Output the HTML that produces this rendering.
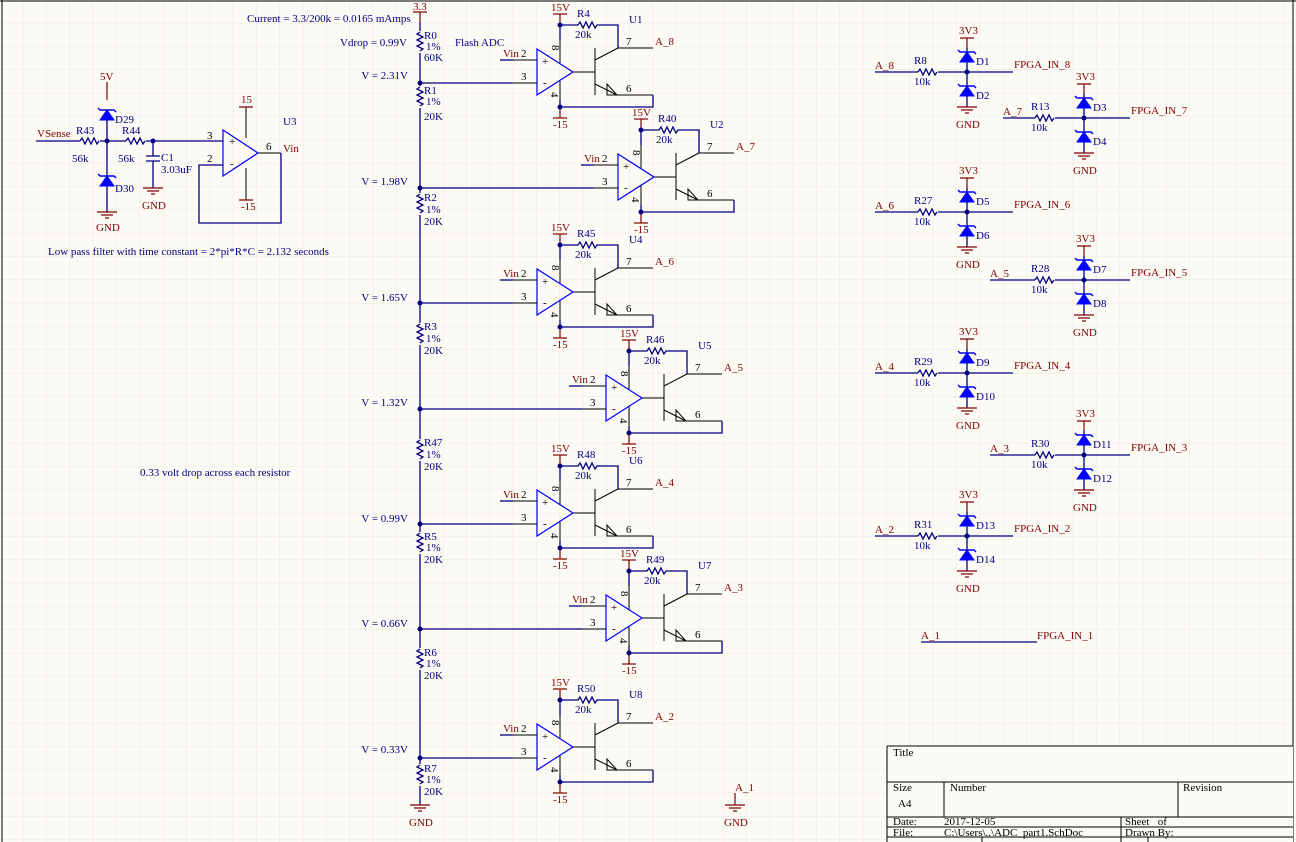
<!DOCTYPE html>
<html><head><meta charset="utf-8"><style>
html,body{margin:0;padding:0;background:#fcfaf4;}
svg{display:block;font-family:"Liberation Serif",serif;font-size:11px;}
.w{stroke:#000080;stroke-width:1.3;fill:none}
.k{stroke:#000;stroke-width:1;fill:none}
.r{stroke:#800000;stroke-width:1.2;fill:none}
.b{stroke:#0000ff;stroke-width:1.2;fill:none}
.tn{fill:#000080}
.tr{fill:#800000}
.tk{fill:#000}
.d{fill:#000080}
</style></head><body>
<svg width="1296" height="842" viewBox="0 0 1296 842" xmlns="http://www.w3.org/2000/svg">
<defs>
<pattern id="grid" width="23.333" height="23.333" patternUnits="userSpaceOnUse">
<path d="M23.333 0V23.333M0 23.333H23.333" stroke="#ebe8df" stroke-width="1" fill="none"/>
</pattern>
<g id="cmp">
 <polygon points="537,49 537,95 573,72" class="b"/>
 <line x1="500" y1="60" x2="513" y2="60" class="w"/>
 <line x1="513" y1="60" x2="537" y2="60" class="k"/>
 <line x1="513" y1="83" x2="537" y2="83" class="k"/>
 <line x1="560" y1="63" x2="560" y2="40" class="k"/>
 <line x1="560" y1="40" x2="560" y2="25" class="w"/>
 <line x1="560" y1="25" x2="560" y2="14" class="r"/>
 <line x1="553" y1="14" x2="567" y2="14" class="r"/>
 <circle cx="560" cy="25" r="2.5" class="d"/>
 <path d="M560 25H578l2-3 3 6 3-6 3 6 3-6 3 6 2-3H618V48" class="w"/>
 <line x1="618" y1="48" x2="653" y2="48" class="k"/>
 <line x1="573" y1="72" x2="595" y2="72" class="k"/>
 <line x1="595" y1="48" x2="595" y2="95" class="k"/>
 <line x1="595" y1="60" x2="618" y2="48" class="k"/>
 <line x1="595" y1="84" x2="617" y2="95" class="k"/>
 <polygon points="607,84 607,95 617,95" class="k"/>
 <line x1="617" y1="95" x2="653" y2="95" class="k"/>
 <path d="M653 95V107H560" class="w"/>
 <line x1="560" y1="81" x2="560" y2="100" class="k"/>
 <line x1="560" y1="100" x2="560" y2="107" class="w"/>
 <line x1="560" y1="107" x2="560" y2="118" class="r"/>
 <line x1="553" y1="118" x2="567" y2="118" class="r"/>
 <circle cx="560" cy="107" r="2.5" class="d"/>
</g>
<g id="rv"><path d="M0 0l-3 2 6 3-6 3 6 3-6 3 6 3-3 2" class="w"/></g>
<g id="rh"><path d="M0 0l2-3 3 6 3-6 3 6 3-6 3 6 2-3" class="w"/></g>
<g id="dio"><polygon points="-7,10 7,10 0,0" fill="#0000ff" stroke="#0000ff"/><path d="M-9 -2l2 2H7l2 2" stroke="#0000ff" stroke-width="1.5" fill="none"/></g>
<g id="gnd"><path d="M-10 0H10M-6 3H6M-2 6H2" class="r"/></g>
</defs>
<rect width="1296" height="842" fill="#fcfaf4"/>
<rect width="1296" height="842" fill="url(#grid)"/>
<path d="M2 0V842M0 1H1296M1293 0V842" stroke="#000" stroke-width="1" fill="none"/>

<!-- top texts -->
<text x="247" y="22" class="tn">Current = 3.3/200k = 0.0165 mAmps</text>
<text x="340" y="46" class="tn">Vdrop = 0.99V</text>
<text x="455" y="46" class="tn">Flash ADC</text>
<text x="413" y="10" class="tr">3.3</text>
<line x1="413" y1="12" x2="427" y2="12" class="r"/>
<line x1="420" y1="12" x2="420" y2="22" class="r"/>
<line x1="420" y1="22" x2="420" y2="805" class="w"/>
<use href="#gnd" x="420" y="805"/>
<text x="409" y="826" class="tr">GND</text>

<!-- divider resistors -->
<g>
<rect x="414" y="31" width="12" height="22" fill="#fcfaf4"/><use href="#rv" x="420" y="32"/>
<text x="424" y="39" class="tn">R0</text><text x="426" y="50" class="tn">1%</text><text x="424" y="61" class="tn">60K</text>
<rect x="414" y="86" width="12" height="22" fill="#fcfaf4"/><use href="#rv" x="420" y="87"/>
<text x="424" y="94" class="tn">R1</text><text x="426" y="105" class="tn">1%</text><text x="424" y="120" class="tn">20K</text>
<rect x="414" y="193" width="12" height="22" fill="#fcfaf4"/><use href="#rv" x="420" y="194"/>
<text x="424" y="201" class="tn">R2</text><text x="426" y="213" class="tn">1%</text><text x="424" y="225" class="tn">20K</text>
<rect x="414" y="323" width="12" height="22" fill="#fcfaf4"/><use href="#rv" x="420" y="324"/>
<text x="424" y="330" class="tn">R3</text><text x="426" y="342" class="tn">1%</text><text x="424" y="354" class="tn">20K</text>
<rect x="414" y="439" width="12" height="22" fill="#fcfaf4"/><use href="#rv" x="420" y="440"/>
<text x="424" y="446" class="tn">R47</text><text x="426" y="458" class="tn">1%</text><text x="424" y="470" class="tn">20K</text>
<rect x="414" y="532" width="12" height="22" fill="#fcfaf4"/><use href="#rv" x="420" y="533"/>
<text x="424" y="540" class="tn">R5</text><text x="426" y="551" class="tn">1%</text><text x="424" y="563" class="tn">20K</text>
<rect x="414" y="648" width="12" height="22" fill="#fcfaf4"/><use href="#rv" x="420" y="649"/>
<text x="424" y="656" class="tn">R6</text><text x="426" y="667" class="tn">1%</text><text x="424" y="679" class="tn">20K</text>
<rect x="414" y="764" width="12" height="22" fill="#fcfaf4"/><use href="#rv" x="420" y="765"/>
<text x="424" y="772" class="tn">R7</text><text x="426" y="783" class="tn">1%</text><text x="424" y="795" class="tn">20K</text>
</g>

<!-- taps -->
<g text-anchor="end" class="tn">
<text x="408" y="79" class="tn">V = 2.31V</text>
<text x="408" y="185" class="tn">V = 1.98V</text>
<text x="408" y="301" class="tn">V = 1.65V</text>
<text x="408" y="406" class="tn">V = 1.32V</text>
<text x="408" y="522" class="tn">V = 0.99V</text>
<text x="408" y="627" class="tn">V = 0.66V</text>
<text x="408" y="753" class="tn">V = 0.33V</text>
</g>
<path d="M420 83H513M420 188H594M420 303H513M420 409H582M420 524H513M420 629H582M420 758H513" class="w"/>
<g class="d"><circle cx="420" cy="83" r="2.5"/><circle cx="420" cy="188" r="2.5"/><circle cx="420" cy="303" r="2.5"/><circle cx="420" cy="409" r="2.5"/><circle cx="420" cy="524" r="2.5"/><circle cx="420" cy="629" r="2.5"/><circle cx="420" cy="758" r="2.5"/></g>

<!-- comparator units -->
<g transform="translate(0,0)"><use href="#cmp"/>
<text x="551" y="11" class="tr">15V</text><text x="553" y="128" class="tr">-15</text><text x="503" y="57" class="tr">Vin</text>
<text x="521" y="57" class="tk">2</text><text x="521" y="80" class="tk">3</text><text x="626" y="45" class="tk">7</text><text x="626" y="92" class="tk">6</text>
<text x="542" y="65" class="tk">+</text><text x="543" y="86" class="tk">-</text><text x="551" y="50" class="tk" transform="rotate(90 554 48)">8</text><text x="551" y="98" class="tk" transform="rotate(90 554 95)">4</text>
<text x="577" y="17" class="tn">R4</text><text x="575" y="38" class="tn">20k</text><text x="629" y="23" class="tn">U1</text><text x="655" y="45" class="tr">A_8</text></g>

<g transform="translate(81,105)"><use href="#cmp"/>
<text x="551" y="11" class="tr">15V</text><text x="553" y="128" class="tr">-15</text><text x="503" y="57" class="tr">Vin</text>
<text x="521" y="57" class="tk">2</text><text x="521" y="80" class="tk">3</text><text x="626" y="45" class="tk">7</text><text x="626" y="92" class="tk">6</text>
<text x="542" y="65" class="tk">+</text><text x="543" y="86" class="tk">-</text><text x="551" y="50" class="tk" transform="rotate(90 554 48)">8</text><text x="551" y="98" class="tk" transform="rotate(90 554 95)">4</text>
<text x="577" y="17" class="tn">R40</text><text x="575" y="38" class="tn">20k</text><text x="629" y="23" class="tn">U2</text><text x="655" y="45" class="tr">A_7</text></g>

<g transform="translate(0,220)"><use href="#cmp"/>
<text x="551" y="11" class="tr">15V</text><text x="553" y="128" class="tr">-15</text><text x="503" y="57" class="tr">Vin</text>
<text x="521" y="57" class="tk">2</text><text x="521" y="80" class="tk">3</text><text x="626" y="45" class="tk">7</text><text x="626" y="92" class="tk">6</text>
<text x="542" y="65" class="tk">+</text><text x="543" y="86" class="tk">-</text><text x="551" y="50" class="tk" transform="rotate(90 554 48)">8</text><text x="551" y="98" class="tk" transform="rotate(90 554 95)">4</text>
<text x="577" y="17" class="tn">R45</text><text x="575" y="38" class="tn">20k</text><text x="629" y="23" class="tn">U4</text><text x="655" y="45" class="tr">A_6</text></g>

<g transform="translate(69,326)"><use href="#cmp"/>
<text x="551" y="11" class="tr">15V</text><text x="553" y="128" class="tr">-15</text><text x="503" y="57" class="tr">Vin</text>
<text x="521" y="57" class="tk">2</text><text x="521" y="80" class="tk">3</text><text x="626" y="45" class="tk">7</text><text x="626" y="92" class="tk">6</text>
<text x="542" y="65" class="tk">+</text><text x="543" y="86" class="tk">-</text><text x="551" y="50" class="tk" transform="rotate(90 554 48)">8</text><text x="551" y="98" class="tk" transform="rotate(90 554 95)">4</text>
<text x="577" y="17" class="tn">R46</text><text x="575" y="38" class="tn">20k</text><text x="629" y="23" class="tn">U5</text><text x="655" y="45" class="tr">A_5</text></g>

<g transform="translate(0,441)"><use href="#cmp"/>
<text x="551" y="11" class="tr">15V</text><text x="553" y="128" class="tr">-15</text><text x="503" y="57" class="tr">Vin</text>
<text x="521" y="57" class="tk">2</text><text x="521" y="80" class="tk">3</text><text x="626" y="45" class="tk">7</text><text x="626" y="92" class="tk">6</text>
<text x="542" y="65" class="tk">+</text><text x="543" y="86" class="tk">-</text><text x="551" y="50" class="tk" transform="rotate(90 554 48)">8</text><text x="551" y="98" class="tk" transform="rotate(90 554 95)">4</text>
<text x="577" y="17" class="tn">R48</text><text x="575" y="38" class="tn">20k</text><text x="629" y="23" class="tn">U6</text><text x="655" y="45" class="tr">A_4</text></g>

<g transform="translate(69,546)"><use href="#cmp"/>
<text x="551" y="11" class="tr">15V</text><text x="553" y="128" class="tr">-15</text><text x="503" y="57" class="tr">Vin</text>
<text x="521" y="57" class="tk">2</text><text x="521" y="80" class="tk">3</text><text x="626" y="45" class="tk">7</text><text x="626" y="92" class="tk">6</text>
<text x="542" y="65" class="tk">+</text><text x="543" y="86" class="tk">-</text><text x="551" y="50" class="tk" transform="rotate(90 554 48)">8</text><text x="551" y="98" class="tk" transform="rotate(90 554 95)">4</text>
<text x="577" y="17" class="tn">R49</text><text x="575" y="38" class="tn">20k</text><text x="629" y="23" class="tn">U7</text><text x="655" y="45" class="tr">A_3</text></g>

<g transform="translate(0,675)"><use href="#cmp"/>
<text x="551" y="11" class="tr">15V</text><text x="553" y="128" class="tr">-15</text><text x="503" y="57" class="tr">Vin</text>
<text x="521" y="57" class="tk">2</text><text x="521" y="80" class="tk">3</text><text x="626" y="45" class="tk">7</text><text x="626" y="92" class="tk">6</text>
<text x="542" y="65" class="tk">+</text><text x="543" y="86" class="tk">-</text><text x="551" y="50" class="tk" transform="rotate(90 554 48)">8</text><text x="551" y="98" class="tk" transform="rotate(90 554 95)">4</text>
<text x="577" y="17" class="tn">R50</text><text x="575" y="38" class="tn">20k</text><text x="629" y="23" class="tn">U8</text><text x="655" y="45" class="tr">A_2</text></g>

<!-- A_1 GND -->
<text x="735" y="791" class="tr">A_1</text>
<line x1="735" y1="793" x2="735" y2="805" class="r"/>
<use href="#gnd" x="735" y="805"/>
<text x="724" y="826" class="tr">GND</text>

<!-- left input filter -->
<text x="100" y="80" class="tr">5V</text>
<path d="M107 82V100" class="r"/>
<use href="#dio" x="107" y="110"/>
<path d="M107 120V176M107 186V212" class="w"/>
<use href="#dio" x="107" y="176"/>
<use href="#gnd" x="107" y="212"/>
<text x="96" y="231" class="tr">GND</text>
<text x="115" y="123" class="tn">D29</text>
<text x="115" y="192" class="tn">D30</text>
<text x="37" y="137" class="tr">VSense</text>
<path d="M36 141H80" class="w"/>
<use href="#rh" x="80" y="141"/>
<path d="M100 141H126" class="w"/>
<use href="#rh" x="126" y="141"/>
<path d="M146 141H223" class="w"/>
<circle cx="107" cy="141" r="2.5" class="d"/>
<circle cx="153" cy="141" r="2.5" class="d"/>
<text x="76" y="134" class="tn">R43</text><text x="72" y="162" class="tn">56k</text>
<text x="122" y="134" class="tn">R44</text><text x="118" y="162" class="tn">56k</text>
<path d="M153 141V156M146 156H160M146 161H160M153 161V188" class="w"/>
<use href="#gnd" x="153" y="188"/>
<text x="142" y="209" class="tr">GND</text>
<text x="161" y="161" class="tn">C1</text><text x="161" y="173" class="tn">3.03uF</text>
<polygon points="223,130 223,176 258,153" class="b"/>
<path d="M246 107V138M246 168V200" class="k"/>
<path d="M239 107H253M239 200H253" class="r"/>
<text x="241" y="103" class="tr">15</text><text x="241" y="210" class="tr">-15</text>
<path d="M258 153H281" class="k"/>
<path d="M281 153V223H199V165H223" class="w"/>
<text x="207" y="139" class="tk">3</text><text x="207" y="162" class="tk">2</text>
<text x="266" y="150" class="tk">6</text><text x="283" y="152" class="tr">Vin</text>
<text x="283" y="125" class="tn">U3</text>
<text x="229" y="145" class="tk">+</text><text x="230" y="167" class="tk">-</text>
<text x="48" y="255" class="tn">Low pass filter with time constant = 2*pi*R*C = 2.132 seconds</text>
<text x="140" y="476" class="tn">0.33 volt drop across each resistor</text>

<!-- right diode clamps -->
<g transform="translate(0,0)">
<path d="M875 72H918M938 72H1013M967 48V52M967 62V86M967 96V107" class="w"/><use href="#rh" x="918" y="72"/>
<path d="M960 38H974M967 38V48" class="r"/><use href="#dio" x="967" y="52"/><use href="#dio" x="967" y="86"/><use href="#gnd" x="967" y="107"/><circle cx="967" cy="72" r="2.5" class="d"/>
<text x="959" y="34" class="tr">3V3</text><text x="956" y="128" class="tr">GND</text><text x="976" y="65" class="tn">D1</text><text x="976" y="99" class="tn">D2</text>
<text x="914" y="64" class="tn">R8</text><text x="914" y="85" class="tn">10k</text><text x="875" y="69" class="tr">A_8</text><text x="1014" y="68" class="tr">FPGA_IN_8</text></g>

<g transform="translate(117,46)">
<path d="M886 72H918M938 72H1013M967 48V52M967 62V86M967 96V107" class="w"/><use href="#rh" x="918" y="72"/>
<path d="M960 38H974M967 38V48" class="r"/><use href="#dio" x="967" y="52"/><use href="#dio" x="967" y="86"/><use href="#gnd" x="967" y="107"/><circle cx="967" cy="72" r="2.5" class="d"/>
<text x="959" y="34" class="tr">3V3</text><text x="956" y="128" class="tr">GND</text><text x="976" y="65" class="tn">D3</text><text x="976" y="99" class="tn">D4</text>
<text x="914" y="64" class="tn">R13</text><text x="914" y="85" class="tn">10k</text><text x="886" y="69" class="tr">A_7</text><text x="1014" y="68" class="tr">FPGA_IN_7</text></g>

<g transform="translate(0,140)">
<path d="M875 72H918M938 72H1013M967 48V52M967 62V86M967 96V107" class="w"/><use href="#rh" x="918" y="72"/>
<path d="M960 38H974M967 38V48" class="r"/><use href="#dio" x="967" y="52"/><use href="#dio" x="967" y="86"/><use href="#gnd" x="967" y="107"/><circle cx="967" cy="72" r="2.5" class="d"/>
<text x="959" y="34" class="tr">3V3</text><text x="956" y="128" class="tr">GND</text><text x="976" y="65" class="tn">D5</text><text x="976" y="99" class="tn">D6</text>
<text x="914" y="64" class="tn">R27</text><text x="914" y="85" class="tn">10k</text><text x="875" y="69" class="tr">A_6</text><text x="1014" y="68" class="tr">FPGA_IN_6</text></g>

<g transform="translate(117,208)">
<path d="M873 72H918M938 72H1013M967 48V52M967 62V86M967 96V107" class="w"/><use href="#rh" x="918" y="72"/>
<path d="M960 38H974M967 38V48" class="r"/><use href="#dio" x="967" y="52"/><use href="#dio" x="967" y="86"/><use href="#gnd" x="967" y="107"/><circle cx="967" cy="72" r="2.5" class="d"/>
<text x="959" y="34" class="tr">3V3</text><text x="956" y="128" class="tr">GND</text><text x="976" y="65" class="tn">D7</text><text x="976" y="99" class="tn">D8</text>
<text x="914" y="64" class="tn">R28</text><text x="914" y="85" class="tn">10k</text><text x="873" y="69" class="tr">A_5</text><text x="1014" y="68" class="tr">FPGA_IN_5</text></g>

<g transform="translate(0,301)">
<path d="M875 72H918M938 72H1013M967 48V52M967 62V86M967 96V107" class="w"/><use href="#rh" x="918" y="72"/>
<path d="M960 38H974M967 38V48" class="r"/><use href="#dio" x="967" y="52"/><use href="#dio" x="967" y="86"/><use href="#gnd" x="967" y="107"/><circle cx="967" cy="72" r="2.5" class="d"/>
<text x="959" y="34" class="tr">3V3</text><text x="956" y="128" class="tr">GND</text><text x="976" y="65" class="tn">D9</text><text x="976" y="99" class="tn">D10</text>
<text x="914" y="64" class="tn">R29</text><text x="914" y="85" class="tn">10k</text><text x="875" y="69" class="tr">A_4</text><text x="1014" y="68" class="tr">FPGA_IN_4</text></g>

<g transform="translate(117,383)">
<path d="M873 72H918M938 72H1013M967 48V52M967 62V86M967 96V107" class="w"/><use href="#rh" x="918" y="72"/>
<path d="M960 38H974M967 38V48" class="r"/><use href="#dio" x="967" y="52"/><use href="#dio" x="967" y="86"/><use href="#gnd" x="967" y="107"/><circle cx="967" cy="72" r="2.5" class="d"/>
<text x="959" y="34" class="tr">3V3</text><text x="956" y="128" class="tr">GND</text><text x="976" y="65" class="tn">D11</text><text x="976" y="99" class="tn">D12</text>
<text x="914" y="64" class="tn">R30</text><text x="914" y="85" class="tn">10k</text><text x="873" y="69" class="tr">A_3</text><text x="1014" y="68" class="tr">FPGA_IN_3</text></g>

<g transform="translate(0,464)">
<path d="M875 72H918M938 72H1013M967 48V52M967 62V86M967 96V107" class="w"/><use href="#rh" x="918" y="72"/>
<path d="M960 38H974M967 38V48" class="r"/><use href="#dio" x="967" y="52"/><use href="#dio" x="967" y="86"/><use href="#gnd" x="967" y="107"/><circle cx="967" cy="72" r="2.5" class="d"/>
<text x="959" y="34" class="tr">3V3</text><text x="956" y="128" class="tr">GND</text><text x="976" y="65" class="tn">D13</text><text x="976" y="99" class="tn">D14</text>
<text x="914" y="64" class="tn">R31</text><text x="914" y="85" class="tn">10k</text><text x="875" y="69" class="tr">A_2</text><text x="1014" y="68" class="tr">FPGA_IN_2</text></g>

<path d="M921 642H1037" class="w"/>
<text x="921" y="639" class="tr">A_1</text><text x="1037" y="639" class="tr">FPGA_IN_1</text>

<!-- title block -->
<rect x="887" y="746" width="406" height="96" fill="#fcfaf4"/>
<g stroke="#000" stroke-width="1" fill="none">
<path d="M887 746H1293M887 746V842M887 782H1293M887 817H1293M887 827H1293M887 837H1293M944 782V817M1178 782V817M1121 817V842M982 837V842M1148 837V842"/>
</g>
<g class="tk">
<text x="893" y="756">Title</text>
<text x="893" y="791">Size</text>
<text x="898" y="807">A4</text>
<text x="950" y="791">Number</text>
<text x="1183" y="791">Revision</text>
<text x="893" y="825">Date:</text>
<text x="944" y="825">2017-12-05</text>
<text x="893" y="836">File:</text>
<text x="944" y="836">C:\Users\..\ADC_part1.SchDoc</text>
<text x="1125" y="825">Sheet&#160;&#160;&#160;of</text>
<text x="1125" y="836">Drawn By:</text>
</g>
</svg>
</body></html>
